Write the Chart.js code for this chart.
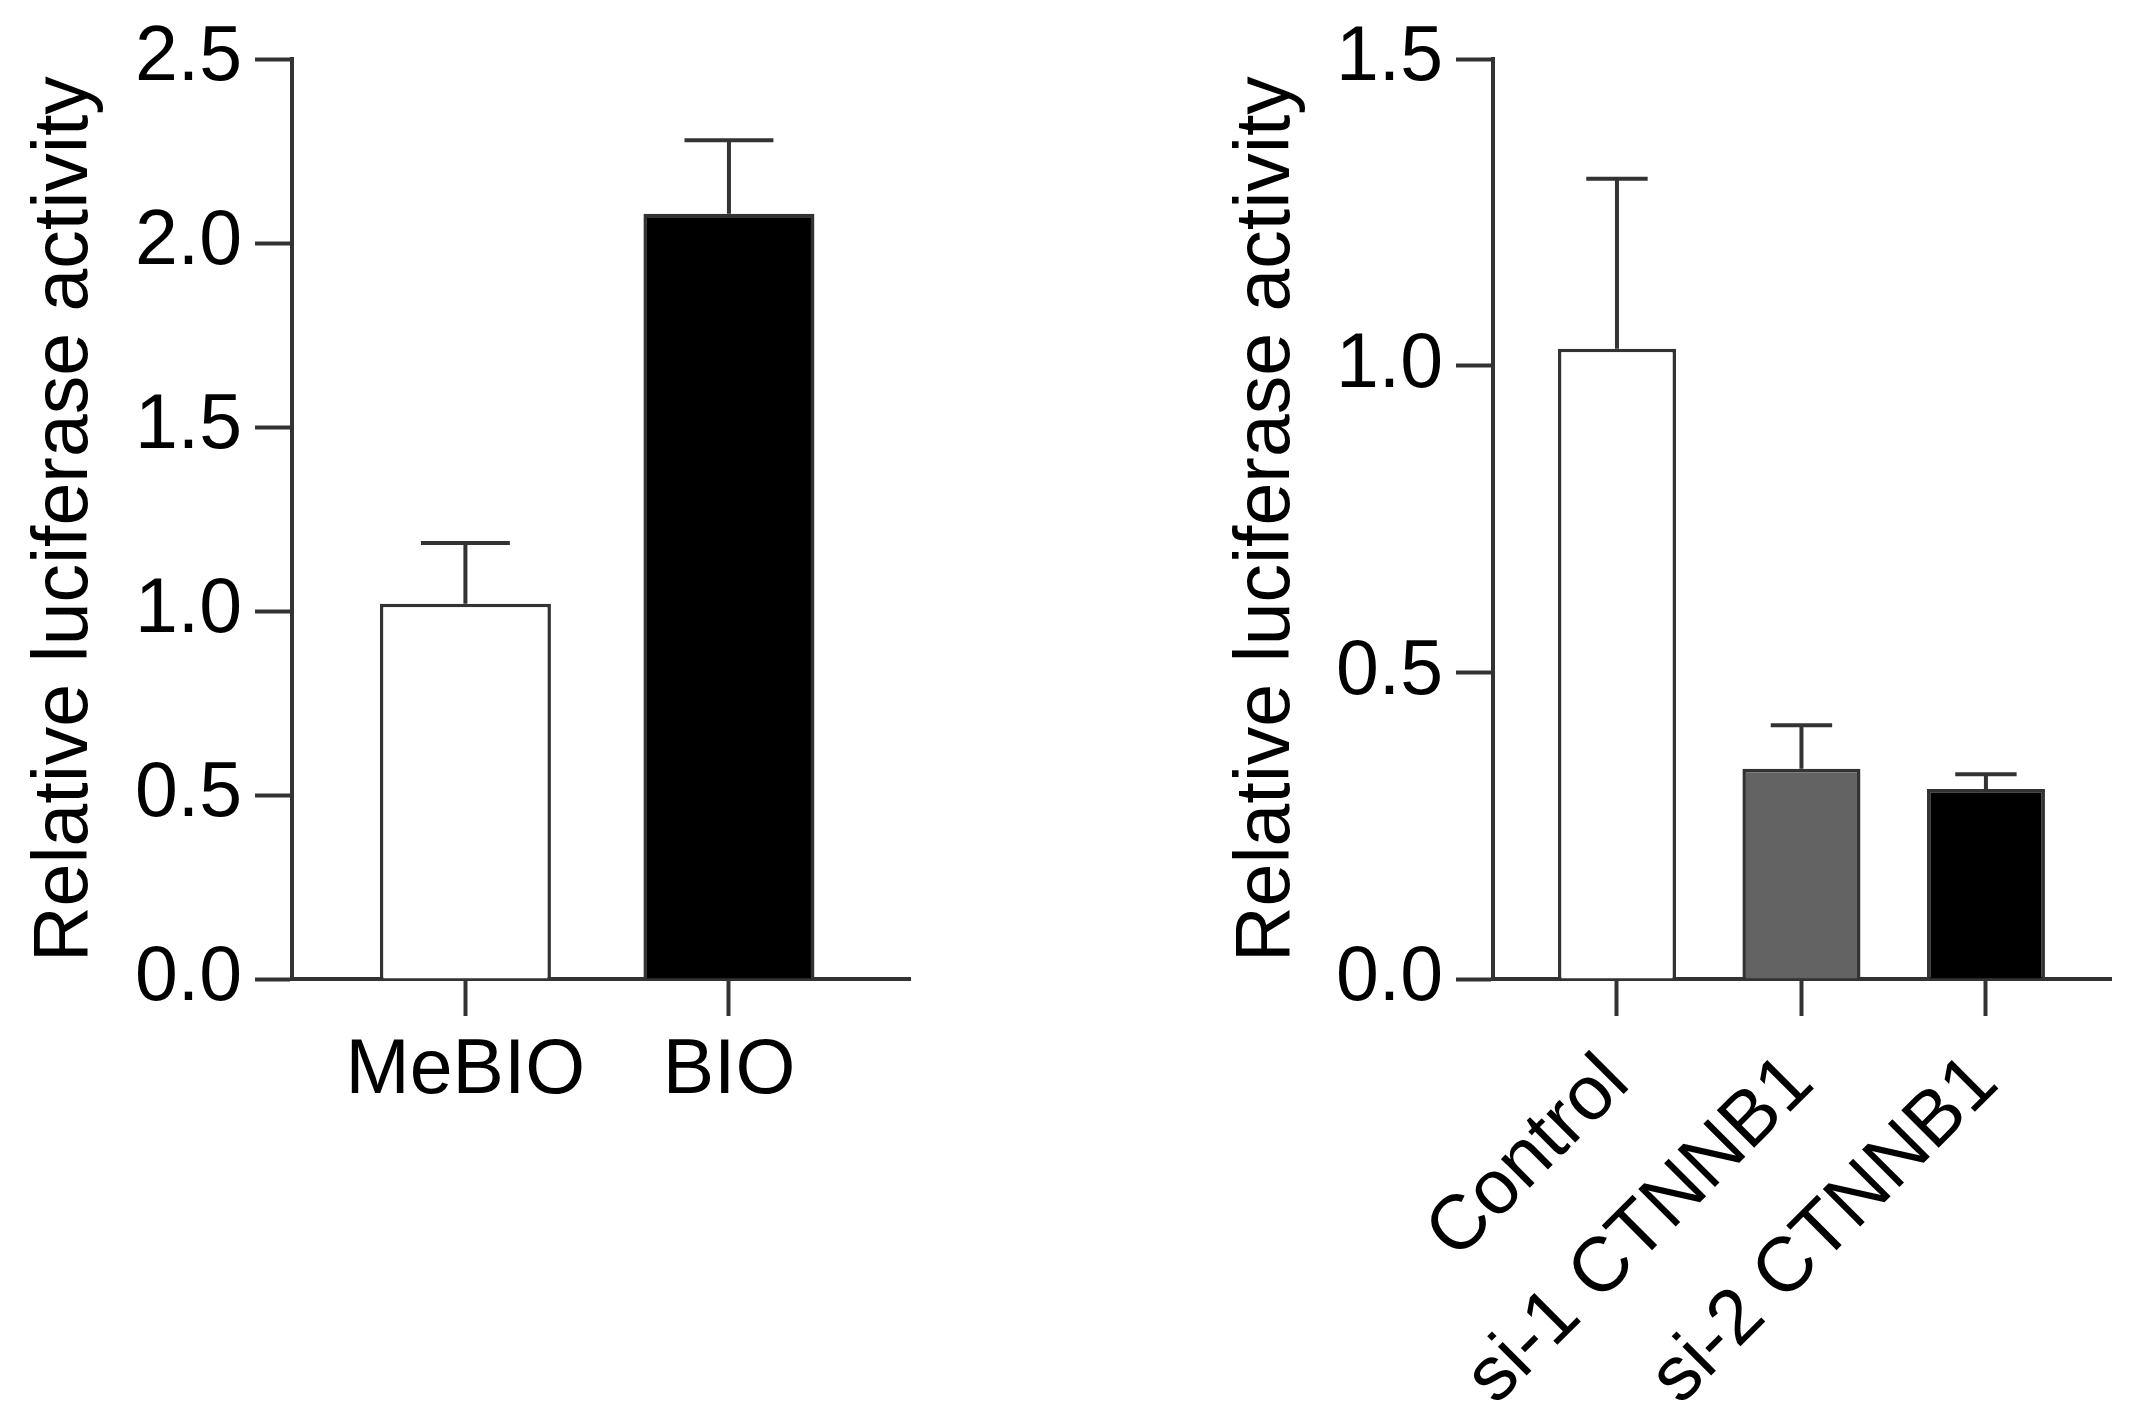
<!DOCTYPE html>
<html>
<head>
<meta charset="utf-8">
<script src="https://cdn.jsdelivr.net/npm/chart.js@4.4.1/dist/chart.umd.min.js"></script>
<style>
  html, body { margin: 0; padding: 0; background: #fff; }
  .panel { position: absolute; top: 0; height: 1422px; }
  #leftPanel { left: 0; width: 1000px; }
  #rightPanel { left: 1000px; width: 1135px; }
</style>
</head>
<body>
<div class="panel" id="leftPanel"><canvas id="leftChart"></canvas></div>
<div class="panel" id="rightPanel"><canvas id="rightChart"></canvas></div>
<script>
// =====================
// Data
// =====================
const leftCategories = ["MeBIO", "BIO"];
const leftMeans = [1.02, 2.08];
const leftErrors = [0.165, 0.20];
const leftColors = ["#ffffff", "#000000"];
const leftTicks = [0, 0.5, 1.0, 1.5, 2.0, 2.5];

const rightCategories = ["Control", "si-1 CTNNB1", "si-2 CTNNB1"];
const rightMeans = [1.028, 0.343, 0.310];
const rightErrors = [0.277, 0.071, 0.024];
const rightColors = ["#ffffff", "#636363", "#000000"];
const rightTicks = [0, 0.5, 1.0, 1.5];

const yTitle = "Relative luciferase activity";
const lineColor = "#333333";
const fontFamily = "'Liberation Sans', Arial, sans-serif";

// =====================
// Error bar plugin (upper whisker only)
// =====================
const errorBars = {
  id: "errorBars",
  afterDatasetsDraw(chart, args, opts) {
    const ctx = chart.ctx;
    const yScale = chart.scales.y;
    const meta = chart.getDatasetMeta(0);
    const ds = chart.data.datasets[0];
    ctx.save();
    ctx.strokeStyle = lineColor;
    ctx.lineWidth = 4;
    meta.data.forEach((bar, i) => {
      const top = yScale.getPixelForValue(ds.data[i].y + opts.errors[i]);
      const capHalf = bar.width * 0.26;
      ctx.beginPath();
      ctx.moveTo(bar.x, bar.y);
      ctx.lineTo(bar.x, top);
      ctx.moveTo(bar.x - capHalf, top);
      ctx.lineTo(bar.x + capHalf, top);
      ctx.stroke();
    });
    ctx.restore();
  }
};

function makeChart(canvasId, categories, means, errors, colors, ticks, cfg) {
  const points = means.map((v, i) => ({ x: i + 1, y: v }));
  return new Chart(document.getElementById(canvasId), {
    type: "bar",
    data: {
      datasets: [{
        data: points,
        backgroundColor: colors,
        borderColor: lineColor,
        borderWidth: 3.5,
        borderSkipped: "bottom",
        barPercentage: cfg.barPct,
        categoryPercentage: 1
      }]
    },
    options: {
      responsive: true,
      maintainAspectRatio: false,
      animation: false,
      events: [],
      layout: { padding: cfg.padding },
      plugins: {
        legend: { display: false },
        tooltip: { enabled: false },
        errorBars: { errors: errors }
      },
      scales: {
        x: {
          type: "linear",
          min: cfg.xMin,
          max: cfg.xMax,
          offset: false,
          afterBuildTicks: s => { s.ticks = categories.map((c, i) => ({ value: i + 1 })); },
          afterFit: s => { s.height = cfg.xHeight; },
          border: { display: true, color: lineColor, width: 4 },
          grid: {
            offset: false,
            drawOnChartArea: false,
            drawTicks: true,
            tickLength: 37,
            tickWidth: 4,
            tickColor: lineColor
          },
          ticks: {
            autoSkip: false,
            minRotation: cfg.rotation,
            maxRotation: cfg.rotation,
            padding: cfg.xPad,
            color: "#000",
            font: { family: fontFamily, size: 77 },
            callback: v => categories[Math.round(v) - 1] || ""
          }
        },
        y: {
          min: 0,
          max: ticks[ticks.length - 1],
          afterBuildTicks: s => { s.ticks = ticks.map(v => ({ value: v })); },
          afterFit: s => { s.width = cfg.yWidth; },
          border: { display: true, color: lineColor, width: 4 },
          grid: {
            drawOnChartArea: false,
            drawTicks: true,
            tickLength: 37,
            tickWidth: 4,
            tickColor: lineColor
          },
          ticks: {
            padding: 13,
            color: "#000",
            font: { family: fontFamily, size: 77 },
            callback: v => v.toFixed(1)
          },
          title: {
            display: true,
            text: yTitle,
            color: "#000",
            font: { family: fontFamily, size: 77 },
            padding: { top: cfg.titlePad, bottom: 0 }
          }
        }
      }
    },
    plugins: [errorBars]
  });
}

makeChart("leftChart", leftCategories, leftMeans, leftErrors, leftColors, leftTicks, {
  padding: { top: 59, right: 90, bottom: 0, left: 0 },
  xMin: 0.342, xMax: 2.687, barPct: 0.649,
  xHeight: 443, yWidth: 292, titlePad: 20,
  rotation: 0, xPad: 10
});

makeChart("rightChart", rightCategories, rightMeans, rightErrors, rightColors, rightTicks, {
  padding: { top: 59, right: 24, bottom: 0, left: 0 },
  xMin: 0.328, xMax: 3.678, barPct: 0.64,
  xHeight: 443, yWidth: 493, titlePad: 222,
  rotation: 45, xPad: 22
});
</script>
</body>
</html>
